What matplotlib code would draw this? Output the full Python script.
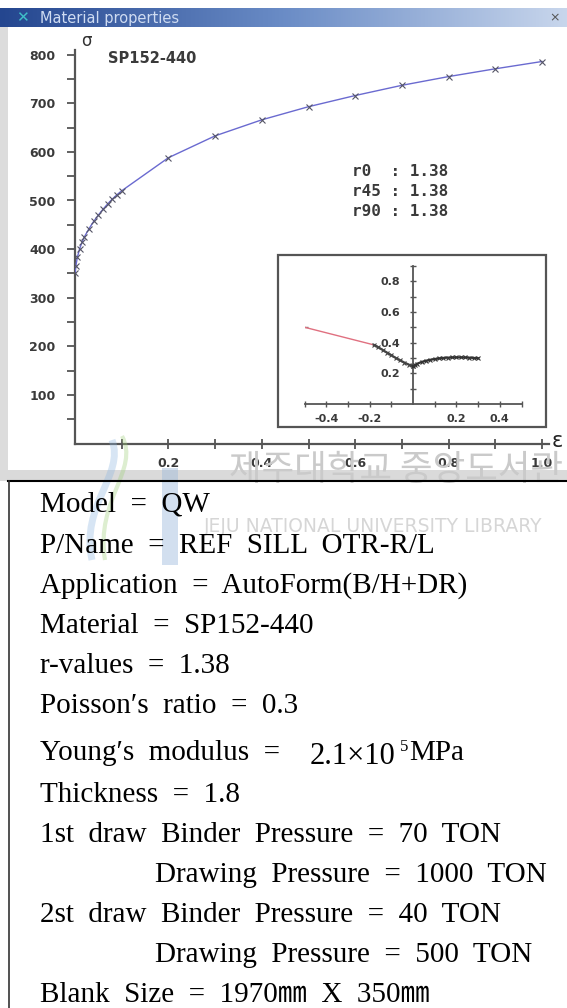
import numpy as np
import matplotlib
matplotlib.use("Agg")
import matplotlib.pyplot as plt
from matplotlib.patches import Rectangle, PathPatch
from matplotlib.path import Path
from matplotlib.lines import Line2D
from matplotlib.colors import LinearSegmentedColormap

# ---------------- data ----------------
strain = [0, 0.002, 0.005, 0.01, 0.015, 0.02, 0.03, 0.04, 0.05, 0.06, 0.07,
          0.08, 0.09, 0.1, 0.2, 0.3, 0.4, 0.5, 0.6, 0.7, 0.8, 0.9, 1.0]
stress = [350, 366, 383, 401, 414, 425, 442, 457, 470, 482, 493,
          503, 512, 520, 588, 633, 666, 693, 716, 737, 755, 771, 786]

x_ticks = [0.2, 0.4, 0.6, 0.8, 1.0]
x_tick_labels = ["0.2", "0.4", "0.6", "0.8", "1.0"]
y_ticks = [100, 200, 300, 400, 500, 600, 700, 800]
y_tick_labels = ["100", "200", "300", "400", "500", "600", "700", "800"]

inset_red_x = [-0.5, -0.18]
inset_red_y = [0.5, 0.385]
inset_left_x = [-0.18, -0.16, -0.14, -0.12, -0.10, -0.08, -0.06, -0.04, -0.02, 0.0]
inset_left_y = [0.385, 0.37, 0.352, 0.335, 0.318, 0.30, 0.285, 0.27, 0.257, 0.245]
inset_right_x = [0.0, 0.01, 0.02, 0.04, 0.06, 0.08, 0.10, 0.12, 0.14, 0.16,
                 0.18, 0.20, 0.22, 0.24, 0.26, 0.28, 0.30]
inset_right_y = [0.245, 0.255, 0.263, 0.274, 0.282, 0.288, 0.293, 0.297, 0.300,
                 0.302, 0.303, 0.304, 0.304, 0.303, 0.302, 0.300, 0.298]
inset_x_ticks = [-0.4, -0.2, 0.2, 0.4]
inset_x_labels = ["-0.4", "-0.2", "0.2", "0.4"]
inset_y_ticks = [0.2, 0.4, 0.6, 0.8]
inset_y_labels = ["0.2", "0.4", "0.6", "0.8"]

material_name = "SP152-440"
r_value_lines = ["r0  : 1.38", "r45 : 1.38", "r90 : 1.38"]

info_lines = [
    "Model  =  QW",
    "P/Name  =  REF  SILL  OTR-R/L",
    "Application  =  AutoForm(B/H+DR)",
    "Material  =  SP152-440",
    "r-values  =  1.38",
    "Poisson′s  ratio  =  0.3",
    None,  # Young's modulus line, drawn in parts
    "Thickness  =  1.8",
    "1st  draw  Binder  Pressure  =  70  TON",
    "Drawing  Pressure  =  1000  TON",
    "2st  draw  Binder  Pressure  =  40  TON",
    "Drawing  Pressure  =  500  TON",
    "Blank  Size  =  1970㎜  X  350㎜",
]
info_indent = [False, False, False, False, False, False, False, False, False,
               True, False, True, False]
info_baselines = [512, 553, 593, 633, 673, 713, 760, 802, 842, 882, 922, 962, 1002]

# ---------------- figure ----------------
W, H = 567, 1008
fig = plt.figure(figsize=(W / 100, H / 100), dpi=100)
fig.patch.set_facecolor("white")


def fx(x):
    return x / W


def fy(y):
    return 1 - y / H


def frect(x0, y0, x1, y1):
    return [fx(x0), fy(y1), fx(x1) - fx(x0), fy(y0) - fy(y1)]


# window frame (gray strips)
fig.patches.append(Rectangle((fx(0), fy(480)), fx(8), fy(27) - fy(480),
                             transform=fig.transFigure, facecolor="#dcdcdc",
                             edgecolor="none", zorder=0))
fig.patches.append(Rectangle((fx(0), fy(481)), 1, fy(470) - fy(481),
                             transform=fig.transFigure, facecolor="#dadada",
                             edgecolor="none", zorder=0))

# faint library logo of the scan
def swoosh(pts, color, lw):
    verts = [(fx(x), fy(y)) for x, y in pts]
    codes = [Path.MOVETO] + [Path.CURVE4] * (len(verts) - 1)
    fig.patches.append(PathPatch(Path(verts, codes), transform=fig.transFigure,
                                 facecolor="none", edgecolor=color, lw=lw,
                                 alpha=0.35, zorder=0.5))


swoosh([(122, 436), (140, 470), (95, 500), (105, 560)], "#9fcf7a", 3)
swoosh([(112, 440), (125, 475), (80, 505), (92, 560)], "#8fb7e0", 5)
fig.patches.append(Rectangle((fx(162), fy(565)), fx(16), fy(468) - fy(565),
                             transform=fig.transFigure, facecolor="#9db9dc",
                             edgecolor="none", alpha=0.45, zorder=0.5))

# title bar
tb = fig.add_axes(frect(0, 8, W, 27))
grad = np.linspace(0, 1, 256).reshape(1, -1)
cmap = LinearSegmentedColormap.from_list("tb", ["#24468f", "#6a8cc6", "#c8d6ec"])
tb.imshow(grad, aspect="auto", cmap=cmap, extent=[0, 1, 0, 1])
tb.set_axis_off()
fig.text(fx(40), fy(18), "Material properties", color="#cfdcf2", fontsize=10.5,
         va="center", ha="left", family="DejaVu Sans")
fig.text(fx(22), fy(18), "✕", color="#3fc0c8", fontsize=11, fontweight="bold",
         va="center", ha="center", family="DejaVu Sans")
fig.text(fx(555), fy(18), "×", color="#555555", fontsize=9,
         va="center", ha="center", family="DejaVu Sans")

# watermark (library stamp in the scan)
fig.text(fx(229), fy(470), "제주대학교 중앙도서관", color="#cacaca", fontsize=25.5,
         va="center", ha="left", family=["Noto Sans CJK KR", "DejaVu Sans"], zorder=0)
fig.text(fx(204), fy(527), "JEJU NATIONAL UNIVERSITY LIBRARY", color="#d6d6d6",
         fontsize=13.5, va="center", ha="left", family="DejaVu Sans", zorder=0)

# ---------------- main axes ----------------
px_x = 467.0  # pixels per unit strain
px_y = 0.486  # pixels per MPa
x0_px, y0_px = 75, 443.5
xmax, ymax = 1.015, 810
ax = fig.add_axes([fx(x0_px), fy(y0_px), xmax * px_x / W, ymax * px_y / H])
ax.set_xlim(0, xmax)
ax.set_ylim(0, ymax)
ax.patch.set_alpha(0)
for s in ["top", "right"]:
    ax.spines[s].set_visible(False)
for s in ["left", "bottom"]:
    ax.spines[s].set_color("#555555")
    ax.spines[s].set_linewidth(1.6)
ax.set_xticks(x_ticks)
ax.set_xticklabels(x_tick_labels)
ax.set_xticks([0.1, 0.3, 0.5, 0.7, 0.9], minor=True)
ax.set_yticks(y_ticks)
ax.set_yticklabels(y_tick_labels)
ax.set_yticks([50, 150, 250, 350, 450, 550, 650, 750], minor=True)
ax.tick_params(axis="both", which="both", colors="#555555", width=1.3,
               labelcolor="#3a3a3a", labelsize=9)
ax.tick_params(axis="x", which="both", direction="inout", length=7, pad=6)
ax.tick_params(axis="y", which="both", direction="out", length=6, pad=8)
for lab in ax.get_xticklabels() + ax.get_yticklabels():
    lab.set_family("DejaVu Sans")
    lab.set_fontweight("bold")

ax.plot(strain, stress, color="#6a6ad0", lw=1.0, zorder=3)
ax.plot(strain, stress, ls="none", marker="x", ms=4, mew=0.8, color="#555566", zorder=4)

ax.text((108 - x0_px) / px_x, (y0_px - 59) / px_y, material_name, fontsize=10.5,
        fontweight="bold", family="DejaVu Sans", color="#3a3a3a",
        va="center", ha="left")
for i, line in enumerate(r_value_lines):
    ax.text((352 - x0_px) / px_x, (y0_px - (172 + 20 * i)) / px_y, line,
            fontsize=11.5, fontweight="bold", family="DejaVu Sans Mono",
            color="#3a3a3a", va="center", ha="left")

fig.text(fx(86), fy(41), "σ", fontsize=12, color="#333333", ha="center", va="center")
fig.text(fx(557), fy(441), "ε", fontsize=15, color="#222222", ha="center", va="center")

# ---------------- inset ----------------
fig.patches.append(Rectangle((fx(278), fy(427)), fx(546) - fx(278), fy(255) - fy(427),
                             transform=fig.transFigure, facecolor="white",
                             edgecolor="#555555", linewidth=1.6, zorder=1))
ipx_x, ipx_y = 217.0, 153.5
io_x, io_y = 413, 404
iax = fig.add_axes([fx(io_x - 0.5 * ipx_x), fy(io_y), ipx_x / W, 0.9 * ipx_y / H])
iax.set_zorder(2)
iax.patch.set_alpha(0)
iax.set_xlim(-0.5, 0.5)
iax.set_ylim(0, 0.9)
for s in ["top", "right"]:
    iax.spines[s].set_visible(False)
iax.spines["left"].set_position(("data", 0))
iax.spines["bottom"].set_position(("data", 0))
for s in ["left", "bottom"]:
    iax.spines[s].set_color("#555555")
    iax.spines[s].set_linewidth(1.3)
iax.set_xticks(inset_x_ticks)
iax.set_xticklabels(inset_x_labels)
iax.set_xticks([-0.5, -0.3, -0.1, 0.1, 0.3, 0.5], minor=True)
iax.set_yticks(inset_y_ticks)
iax.set_yticklabels(inset_y_labels)
iax.set_yticks([0.1, 0.3, 0.5, 0.7, 0.9], minor=True)
iax.tick_params(axis="both", which="both", colors="#555555", width=1.0,
                labelcolor="#3a3a3a", labelsize=8)
iax.tick_params(axis="x", which="both", direction="inout", length=5, pad=5)
iax.tick_params(axis="y", which="both", direction="inout", length=5, pad=7)
for lab in iax.get_xticklabels() + iax.get_yticklabels():
    lab.set_family("DejaVu Sans")
    lab.set_fontweight("bold")

iax.plot(inset_red_x, inset_red_y, color="#e07080", lw=1.0, zorder=3)
iax.plot(inset_red_x[:1], inset_red_y[:1], ls="none", marker="_", ms=5, color="#777777")
iax.plot(inset_left_x, inset_left_y, color="#444444", lw=1.6, marker="x", ms=3.5,
         mew=0.8, zorder=4)
iax.plot(inset_right_x, inset_right_y, color="#333333", lw=1.6, marker="x", ms=3.5,
         mew=0.8, zorder=4)

# ---------------- info box ----------------
fig.lines.append(Line2D([fx(8), 1.0], [fy(481), fy(481)], transform=fig.transFigure,
                        color="black", lw=1.5))
fig.lines.append(Line2D([fx(9), fx(9)], [fy(481), 0], transform=fig.transFigure,
                        color="#333333", lw=1.2))

serif = ["Liberation Serif", "Noto Sans CJK KR", "DejaVu Serif"]
FS = 21
for line, indent, base in zip(info_lines, info_indent, info_baselines):
    if line is None:
        continue
    fig.text(fx(155 if indent else 40), fy(base), line, fontsize=FS, family=serif,
             color="black", va="baseline", ha="left")

# Young's modulus line
yb = info_baselines[6]
fig.text(fx(40), fy(yb), "Young′s  modulus  =", fontsize=FS, family=serif,
         color="black", va="baseline", ha="left")
fig.text(fx(310), fy(yb + 4), "2.1×10", fontsize=22, family=serif,
         color="black", va="baseline", ha="left")
fig.text(fx(400), fy(yb - 9), "5", fontsize=12, family=serif,
         color="black", va="baseline", ha="left")
fig.text(fx(409), fy(yb), "MPa", fontsize=FS, family=serif,
         color="black", va="baseline", ha="left")

fig.savefig("out.png", dpi=100)
